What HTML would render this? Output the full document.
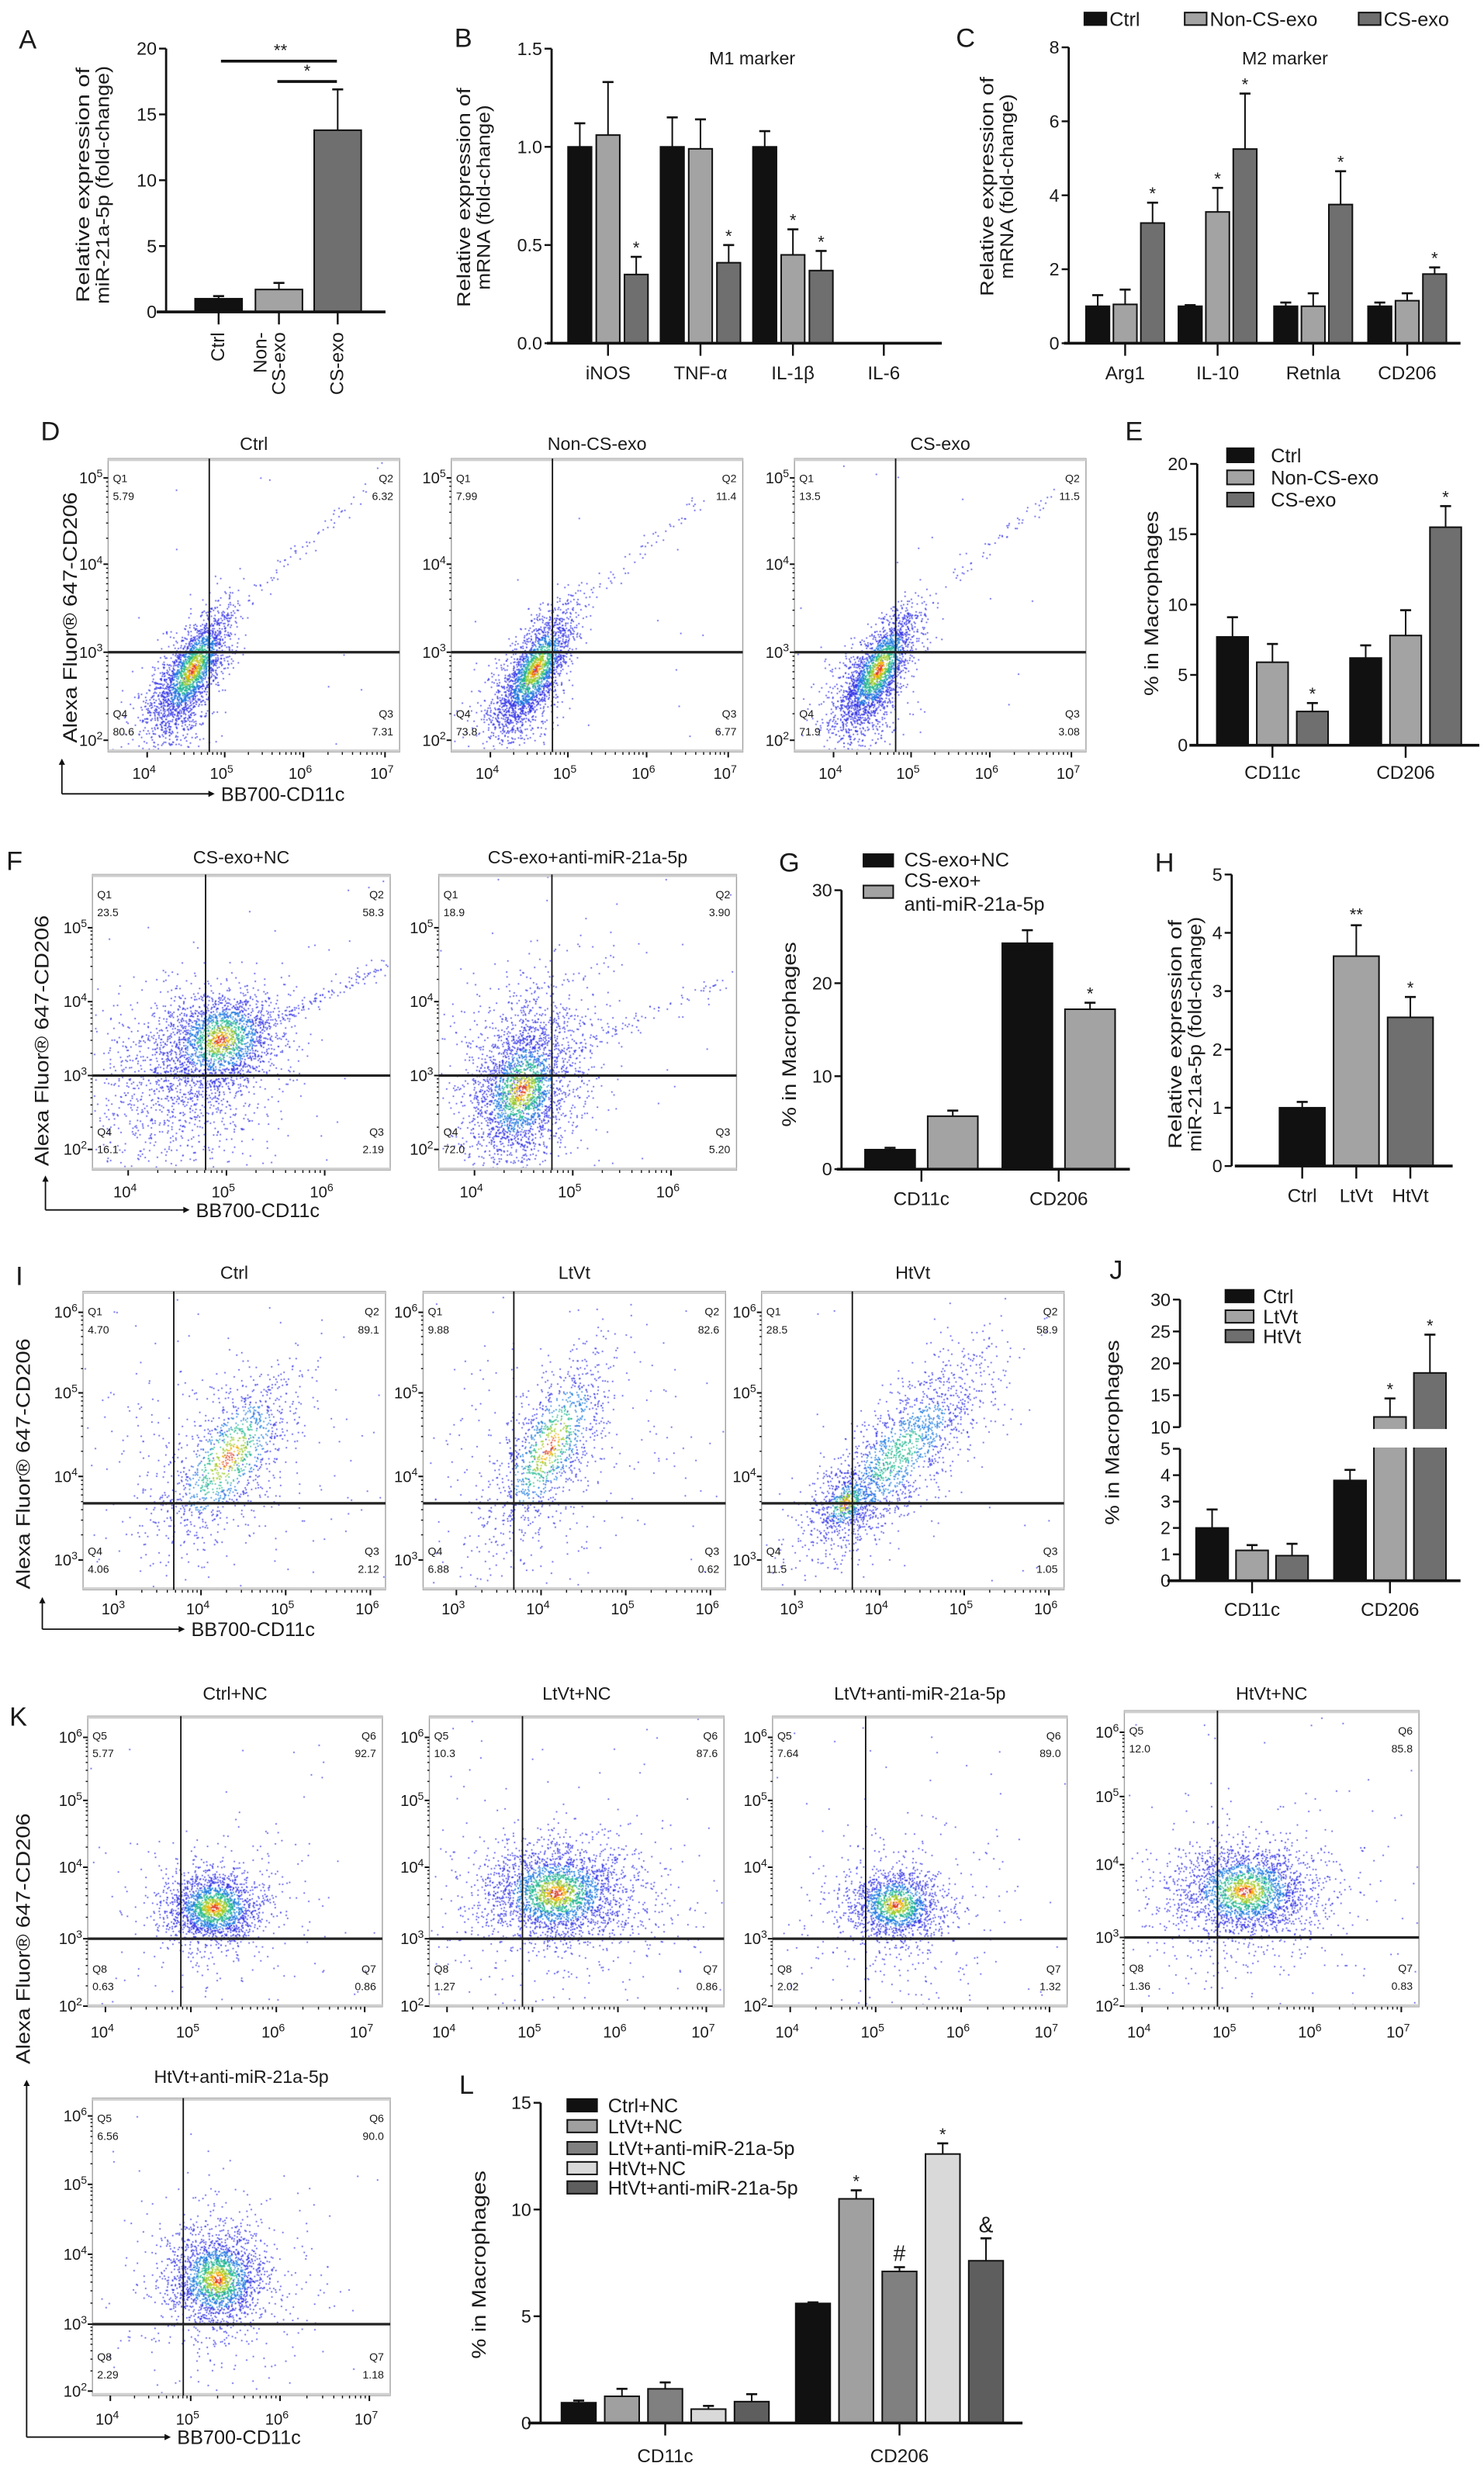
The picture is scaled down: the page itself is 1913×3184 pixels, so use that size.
<!DOCTYPE html>
<html><head><meta charset="utf-8">
<style>
html,body{margin:0;padding:0;background:#fff;}
#wrap{position:relative;width:1913px;height:3184px;overflow:hidden;}
#dots,#fig{position:absolute;left:0;top:0;}
</style></head>
<body>
<div id="wrap">
<canvas id="dots" width="1913" height="3184"></canvas>
<svg id="fig" xmlns="http://www.w3.org/2000/svg" viewBox="0 0 947 1576" width="1913" height="3184" preserveAspectRatio="none"></svg>
</div>
<script>
// ---------- chart data ----------
const aCategories=['Ctrl','Non-CS-exo','CS-exo'];
const aValues=[1.0,1.7,13.8];
const aErrors=[1.2,2.2,16.9];
const aTicks=[0,5,10,15,20];

const bCategories=['iNOS','TNF-α','IL-1β','IL-6'];
const bCtrl=[1.0,1.0,1.0,null];
const bCtrlErr=[1.12,1.15,1.08,null];
const bNon=[1.06,0.99,0.45,null];
const bNonErr=[1.33,1.14,0.58,null];
const bCS=[0.35,0.41,0.37,null];
const bCSErr=[0.44,0.50,0.47,null];
const bTicks=[0,0.5,1.0,1.5];
const bTickLabels=['0.0','0.5','1.0','1.5'];

const cCategories=['Arg1','IL-10','Retnla','CD206'];
const cCtrl=[1.0,1.0,1.0,1.0];
const cCtrlErr=[1.3,1.03,1.1,1.1];
const cNon=[1.05,3.55,1.0,1.15];
const cNonErr=[1.45,4.2,1.35,1.35];
const cCS=[3.25,5.25,3.75,1.87];
const cCSErr=[3.8,6.75,4.65,2.05];
const cTicks=[0,2,4,6,8];

const eCategories=['CD11c','CD206'];
const eCtrl=[7.7,6.2];
const eCtrlErr=[9.1,7.1];
const eNon=[5.9,7.8];
const eNonErr=[7.2,9.6];
const eCS=[2.4,15.5];
const eCSErr=[3.0,17.0];
const eTicks=[0,5,10,15,20];

const gCategories=['CD11c','CD206'];
const gNC=[2.1,24.3];
const gNCErr=[2.3,25.7];
const gAnti=[5.7,17.2];
const gAntiErr=[6.3,17.9];
const gTicks=[0,10,20,30];

const hCategories=['Ctrl','LtVt','HtVt'];
const hValues=[1.0,3.6,2.55];
const hErrors=[1.1,4.13,2.9];
const hTicks=[0,1,2,3,4,5];

const jCategories=['CD11c','CD206'];
const jCtrl=[2.0,3.8];
const jCtrlErr=[2.7,4.2];
const jLt=[1.15,11.6];
const jLtErr=[1.35,14.5];
const jHt=[0.95,18.5];
const jHtErr=[1.4,24.5];
const jTicks=[0,1,2,3,4,5,10,15,20,25,30];

const lCategories=['CD11c','CD206'];
const lCtrlNC=[0.95,5.6];
const lCtrlNCErr=[1.05,5.65];
const lLtNC=[1.25,10.5];
const lLtNCErr=[1.6,10.9];
const lLtAnti=[1.6,7.1];
const lLtAntiErr=[1.9,7.3];
const lHtNC=[0.65,12.6];
const lHtNCErr=[0.8,13.1];
const lHtAnti=[1.0,7.6];
const lHtAntiErr=[1.35,8.65];
const lTicks=[0,5,10,15];

// flow quadrant values [top-left, top-right, bottom-right, bottom-left]
const dQuadVals=[[5.79,6.32,7.31,80.6],[7.99,11.4,6.77,73.8],[13.5,11.5,3.08,71.9]];
const fQuadVals=[['23.5','58.3','2.19','16.1'],['18.9','3.90','5.20','72.0']];
const iQuadVals=[['4.70','89.1','2.12','4.06'],['9.88','82.6','0.62','6.88'],['28.5','58.9','1.05','11.5']];
const kQuadVals=[['5.77','92.7','0.86','0.63'],['10.3','87.6','0.86','1.27'],['7.64','89.0','1.32','2.02'],['12.0','85.8','0.83','1.36'],['6.56','90.0','1.18','2.29']];

// ---------- helpers ----------
const NS='http://www.w3.org/2000/svg';
const svg=document.getElementById('fig');
const FN='"Liberation Sans", Arial, sans-serif';
function mk(tag, attrs, name, parent){
  const el=document.createElementNS(NS,tag);
  for(const k in attrs) el.setAttribute(k, attrs[k]);
  
  
  (parent||svg).appendChild(el);
  return el;
}
function txt(x,y,s,size,anchor,name,extra){
  const a={x:x,y:y,'font-size':size,'text-anchor':anchor||'start','font-family':FN,fill:'#1a1a1a'};
  if(extra) for(const k in extra) a[k]=extra[k];
  const t=mk('text',a,name);
  t.textContent=s;
  return t;
}
function line(x1,y1,x2,y2,w,name,col){
  return mk('line',{x1:x1,y1:y1,x2:x2,y2:y2,stroke:col||'#111','stroke-width':w},name);
}
function vtitle(x,cy,lines,size,name,len){
  lines.forEach((s,i)=>{
    const xx=x+i*size*1.05;
    const extra={transform:'rotate(-90 '+xx+' '+cy+')'};
    if(len) { extra.textLength=len[i]; extra.lengthAdjust='spacingAndGlyphs'; }
    txt(xx,cy,s,size,'middle',name,extra);
  });
}
function letter(x,y,s){ txt(x,y,s,17,'start','panel-label-'+s.toLowerCase()); }

function barChart(o){
  const y0=o.yOf(0);
  const segs=o.segs||[[0,o.ticks[o.ticks.length-1]]];
  segs.forEach(s=>line(o.ax,o.yOf(s[1]),o.ax,o.yOf(s[0]),1.4,'y-axis'));
  o.ticks.forEach((v,i)=>{
    const y=o.yOf(v);
    line(o.ax-4.5,y,o.ax,y,1.2,'y-tick');
    txt(o.ax-6,y+4,o.tickLabels?o.tickLabels[i]:String(v),11.5,'end','y-tick-label');
  });
  o.groups.forEach((cx,gi)=>{
    const n=o.series.length;
    o.series.forEach((s,si)=>{
      const v=s.vals[gi];
      if(v==null) return;
      const bx=cx+(si-(n-1)/2)*o.pitch-o.barW/2;
      const col=Array.isArray(s.color)?s.color[gi]:s.color;
      const yT=o.yOf(v);
      mk('rect',{x:bx,y:yT,width:o.barW,height:y0-yT,fill:col,stroke:'#111','stroke-width':1},'bar-'+o.id+'-'+gi+'-'+si);
      if(s.errs&&s.errs[gi]!=null&&s.errs[gi]>v){
        const ye=o.yOf(s.errs[gi]);
        line(bx+o.barW/2,yT,bx+o.barW/2,ye,1,'error-bar');
        line(bx+o.barW/2-3.5,ye,bx+o.barW/2+3.5,ye,1.3,'error-cap');
      }
    });
  });
  if(o.breakY){
    mk('rect',{x:o.ax+2,y:o.breakY[0],width:o.x1-o.ax,height:o.breakY[1]-o.breakY[0],fill:'#fff'},'axis-break-gap');
  }
  line(o.x0,y0,o.x1,y0,1.8,'x-axis');
  o.groups.forEach((cx,gi)=>{
    line(cx,y0,cx,y0+8,1.2,'x-tick');
    if(o.labels) txt(cx,o.labelY,o.labels[gi],12,'middle','x-tick-label');
  });
  (o.stars||[]).forEach(st=>{
    const n=o.series.length;
    const cx=o.groups[st[0]]+(st[1]-(n-1)/2)*o.pitch;
    const s=o.series[st[1]];
    const top=o.yOf(s.errs[st[0]]);
    const big=st[2]!=='*'&&st[2]!=='**';
    txt(cx,top-(big?4:2),st[2],big?14:11,'middle','significance-mark');
  });
}
function legend(items,x,ys,w,h,tx,size){
  items.forEach((it,i)=>{
    mk('rect',{x:x,y:ys[i]-h/2,width:w,height:h,fill:it[1],stroke:'#111','stroke-width':1},'legend-swatch');
    txt(tx,ys[i]+size*0.36,it[0],size,'start','legend-entry');
  });
}
const BLK='#111', LG='#a3a3a3', DG='#6f6f6f';

// ---------- Panel A ----------
letter(12,31,'A');
const yA=v=>199-v*8.4;
barChart({id:'a',ax:106,x0:100,x1:246,yOf:yA,ticks:aTicks,groups:[139.5,178,215.5],barW:30,pitch:0,
  series:[{vals:aValues,errs:aErrors,color:[BLK,LG,DG]}]});
line(141,39,215,39,1.8,'significance-line-ctrl-cs');
line(177,52,215,52,1.8,'significance-line-non-cs');
txt(179,36,'**',11,'middle','significance-mark');
txt(196,49,'*',11,'middle','significance-mark');
txt(143,212,'Ctrl',12,'end','x-tick-label',{transform:'rotate(-90 143 212)'});
txt(170,212,'Non-',12,'end','x-tick-label',{transform:'rotate(-90 170 212)'});
txt(182,212,'CS-exo',12,'end','x-tick-label',{transform:'rotate(-90 182 212)'});
txt(219,212,'CS-exo',12,'end','x-tick-label',{transform:'rotate(-90 219 212)'});
vtitle(57,118,['Relative expression of','miR-21a-5p (fold-change)'],12,'y-axis-title',[150,152]);

// ---------- Panel B ----------
letter(290,30,'B');
const yB=v=>219-v*125.3;
barChart({id:'b',ax:352,x0:349,x1:601,yOf:yB,ticks:bTicks,tickLabels:bTickLabels,groups:[388,447,506,564],labels:bCategories,labelY:242,barW:15,pitch:18,
  series:[{vals:bCtrl,errs:bCtrlErr,color:BLK},{vals:bNon,errs:bNonErr,color:LG},{vals:bCS,errs:bCSErr,color:DG}],
  stars:[[0,2,'*'],[1,2,'*'],[2,1,'*'],[2,2,'*']]});
txt(480,41,'M1 marker',11.5,'middle','chart-title');
vtitle(300,126,['Relative expression of','mRNA (fold-change)'],12,'y-axis-title',[140,118]);

// ---------- Panel C ----------
letter(610,30,'C');
const yC=v=>219-v*23.6;
barChart({id:'c',ax:682,x0:679,x1:932,yOf:yC,ticks:cTicks,groups:[718,777,838,898],labels:cCategories,labelY:242,barW:15,pitch:17.5,
  series:[{vals:cCtrl,errs:cCtrlErr,color:BLK},{vals:cNon,errs:cNonErr,color:LG},{vals:cCS,errs:cCSErr,color:DG}],
  stars:[[0,2,'*'],[1,1,'*'],[1,2,'*'],[2,2,'*'],[3,2,'*']]});
txt(820,41,'M2 marker',11.5,'middle','chart-title');
vtitle(634,119,['Relative expression of','mRNA (fold-change)'],12,'y-axis-title',[140,118]);
[['Ctrl',BLK,692],['Non-CS-exo',LG,756],['CS-exo',DG,867]].forEach(it=>{
  mk('rect',{x:it[2],y:8,width:14,height:8,fill:it[1],stroke:'#111','stroke-width':1},'legend-swatch');
  txt(it[2]+16,16.5,it[0],12.5,'start','legend-entry');
});

// ---------- Panel E ----------
letter(718,281,'E');
const yE=v=>475.5-v*8.975;
barChart({id:'e',ax:764,x0:759,x1:944,yOf:yE,ticks:eTicks,groups:[812,897],labels:eCategories,labelY:497,barW:20,pitch:25.5,
  series:[{vals:eCtrl,errs:eCtrlErr,color:BLK},{vals:eNon,errs:eNonErr,color:LG},{vals:eCS,errs:eCSErr,color:DG}],
  stars:[[0,2,'*'],[1,2,'*']]});
legend([['Ctrl',BLK],['Non-CS-exo',LG],['CS-exo',DG]],783,[290.5,304.6,318.8],17,9,811,12.5);
vtitle(739,385,['% in Macrophages'],12.5,'y-axis-title',[118]);

// ---------- Panel G ----------
letter(497,556,'G');
const yG=v=>746-v*5.933;
barChart({id:'g',ax:537,x0:534,x1:721,yOf:yG,ticks:gTicks,groups:[588,675.6],labels:gCategories,labelY:769,barW:32,pitch:40,
  series:[{vals:gNC,errs:gNCErr,color:BLK},{vals:gAnti,errs:gAntiErr,color:LG}],
  stars:[[1,1,'*']]});
mk('rect',{x:551,y:545,width:19,height:8,fill:BLK,stroke:'#111','stroke-width':1},'legend-swatch');
txt(577,553,'CS-exo+NC',12.5,'start','legend-entry');
mk('rect',{x:551,y:565,width:19,height:8,fill:LG,stroke:'#111','stroke-width':1},'legend-swatch');
txt(577,566,'CS-exo+',12.5,'start','legend-entry');
txt(577,581,'anti-miR-21a-5p',12.5,'start','legend-entry');
vtitle(508,660,['% in Macrophages'],12.5,'y-axis-title',[118]);

// ---------- Panel H ----------
letter(737,556,'H');
const yH=v=>744-v*37.2;
barChart({id:'h',ax:786,x0:788,x1:927,yOf:yH,ticks:hTicks,groups:[831,865.5,900],labels:hCategories,labelY:767,barW:29,pitch:0,
  series:[{vals:hValues,errs:hErrors,color:[BLK,LG,DG]}]});
txt(865.5,yH(hErrors[1])-3,'**',11,'middle','significance-mark');
txt(900,yH(hErrors[2])-2,'*',11,'middle','significance-mark');
vtitle(754,660,['Relative expression of','miR-21a-5p (fold-change)'],12,'y-axis-title',[146,150]);

// ---------- Panel J ----------
letter(708,816,'J');
const yJ=v=>v<=5?1008.6-v*16.84:910.6-(v-10)*4.07;
barChart({id:'j',ax:753,x0:745,x1:932,yOf:yJ,ticks:jTicks,segs:[[0,5],[10,30]],breakY:[911.8,923.6],groups:[799,887],labels:jCategories,labelY:1031,barW:20.5,pitch:25.5,
  series:[{vals:jCtrl,errs:jCtrlErr,color:BLK},{vals:jLt,errs:jLtErr,color:LG},{vals:jHt,errs:jHtErr,color:DG}],
  stars:[[1,1,'*'],[1,2,'*']]});
legend([['Ctrl',BLK],['LtVt',LG],['HtVt',DG]],782,[827,840,852.5],18,8,806,12.5);
vtitle(714,914,['% in Macrophages'],12.5,'y-axis-title',[118]);

// ---------- Panel L ----------
letter(293,1336,'L');
const yL=v=>1546-v*13.62;
barChart({id:'l',ax:345,x0:337,x1:652.5,yOf:yL,ticks:lTicks,groups:[424.5,574],labels:lCategories,labelY:1571,barW:22,pitch:27.6,
  series:[{vals:lCtrlNC,errs:lCtrlNCErr,color:BLK},{vals:lLtNC,errs:lLtNCErr,color:'#a0a0a0'},{vals:lLtAnti,errs:lLtAntiErr,color:'#808080'},{vals:lHtNC,errs:lHtNCErr,color:'#d9d9d9'},{vals:lHtAnti,errs:lHtAntiErr,color:'#5e5e5e'}],
  stars:[[1,1,'*'],[1,2,'#'],[1,3,'*'],[1,4,'&']]});
legend([['Ctrl+NC',BLK],['LtVt+NC','#a0a0a0'],['LtVt+anti-miR-21a-5p','#808080'],['HtVt+NC','#d9d9d9'],['HtVt+anti-miR-21a-5p','#5e5e5e']],362,[1343.3,1356.6,1370.6,1383.4,1395.7],19,8,388,12.5);
vtitle(310,1445,['% in Macrophages'],12.5,'y-axis-title',[120]);

// ---------- flow panels ----------
let seed=12345;
function rnd(){ seed|=0; seed=seed+0x6D2B79F5|0; let t=Math.imul(seed^seed>>>15,1|seed); t=t+Math.imul(t^t>>>7,61|t)^t; return ((t^t>>>14)>>>0)/4294967296; }
function gauss(){ let u=0,v=0; while(u===0)u=rnd(); v=rnd(); return Math.sqrt(-2*Math.log(u))*Math.cos(2*Math.PI*v); }
const cv=document.getElementById('dots');
const ctx=cv.getContext('2d');
ctx.setTransform(1913/947,0,0,3184/1576,0,0);
function colFor(d){
  if(d>0.985) return '#e03a20';
  if(d>0.95) return '#f0b000';
  if(d>0.86) return '#9ccc2a';
  if(d>0.7) return '#20b890';
  if(d>0.48) return '#1a7ae0';
  return '#3030e6';
}
function drawDots(p,blobs){
  const pts=[];
  blobs.forEach(b=>{
    const a=(b.ang||0)*Math.PI/180, ca=Math.cos(a), sa=Math.sin(a);
    for(let i=0;i<b.n;i++){
      let fx,fy,d;
      if(b.type==='tail'){
        const t=rnd();
        fx=b.x1+(b.x2-b.x1)*t+gauss()*0.015; fy=b.y1+(b.y2-b.y1)*t+gauss()*0.015; d=0.1;
      } else if(b.type==='uni'){
        fx=rnd(); fy=rnd(); d=0.05;
      } else {
        const g1=gauss(), g2=gauss();
        const u=g1*b.sa, v=g2*b.sb;
        fx=b.cx+u*ca-v*sa; fy=b.cy+u*sa+v*ca;
        d=Math.exp(-(g1*g1+g2*g2)/2)*(b.w==null?1:b.w);
      }
      if(fx<0.005||fx>0.995||fy<0.005||fy>0.995) continue;
      pts.push([p.x+fx*p.w,p.y+fy*p.h,d]);
    }
  });
  pts.sort((a,b)=>a[2]-b[2]);
  pts.forEach(q=>{ ctx.fillStyle=colFor(q[2]); ctx.fillRect(q[0]-0.4,q[1]-0.4,0.8,0.8); });
}
function sup(x,y,exp,anchor,name){
  const t=mk('text',{x:x,y:y,'font-size':10,'text-anchor':anchor,'font-family':FN,fill:'#1a1a1a'},name);
  const a=document.createElementNS(NS,'tspan'); a.textContent='10'; t.appendChild(a);
  const b=document.createElementNS(NS,'tspan'); b.setAttribute('dy','-4'); b.setAttribute('font-size','7'); b.textContent=String(exp); t.appendChild(b);
}
function flowPanel(p){
  drawDots(p,p.blobs);
  mk('rect',{x:p.x,y:p.y,width:p.w,height:p.h,fill:'none',stroke:'#a0a0a0','stroke-width':0.7},'flow-plot-frame');
  line(p.x,p.y+0.8,p.x+p.w,p.y+0.8,1.6,'flow-frame-top','#cfcfcf');
  line(p.x,p.y+p.h-0.8,p.x+p.w,p.y+p.h-0.8,1.6,'flow-frame-bottom','#cfcfcf');
  txt(p.x+p.w/2,p.ty,p.title,11.5,'middle','flow-plot-title');
  const gx=p.x+p.gx*p.w, gy=p.y+p.gy*p.h;
  line(gx,p.y,gx,p.y+p.h,0.9,'quadrant-gate-vertical');
  line(p.x,gy,p.x+p.w,gy,1.6,'quadrant-gate-horizontal','#222');
  p.yFr.forEach((f,i)=>{
    const y=p.y+f*p.h;
    line(p.x-3,y,p.x,y,1,'flow-y-tick');
    sup(p.x-3.5,y+3.5,p.yExp[i],'end','flow-y-tick-label');
    if(i<p.yFr.length-1){
      const step=(p.yFr[i+1]-f)*p.h;
      for(let k=2;k<10;k++){ const yy=y+step*(1-Math.log10(k)); line(p.x-1.3,yy,p.x,yy,0.7,'flow-y-minor-tick'); }
    }
  });
  const yb=p.y+p.h;
  p.xFr.forEach((f,i)=>{
    const x=p.x+f*p.w;
    line(x,yb,x,yb+3.5,1,'flow-x-tick');
    sup(x-2,p.xly,p.xExp[i],'middle','flow-x-tick-label');
    if(i<p.xFr.length-1){
      const step=(p.xFr[i+1]-f)*p.w;
      for(let k=2;k<10;k++){ const xx=x+step*Math.log10(k); line(xx,yb,xx,yb+1.8,0.7,'flow-x-minor-tick'); }
    }
  });
  const qn=p.qn, qv=p.qv;
  txt(p.x+3,p.y+0.067*p.h+2.5,qn[0],7,'start','quadrant-name');
  txt(p.x+3,p.y+0.128*p.h+2.5,String(qv[0]),7,'start','quadrant-percent');
  txt(p.x+p.w-4,p.y+0.067*p.h+2.5,qn[1],7,'end','quadrant-name');
  txt(p.x+p.w-4,p.y+0.128*p.h+2.5,String(qv[1]),7,'end','quadrant-percent');
  txt(p.x+p.w-4,p.y+0.87*p.h+2.5,qn[2],7,'end','quadrant-name');
  txt(p.x+p.w-4,p.y+0.93*p.h+2.5,String(qv[2]),7,'end','quadrant-percent');
  txt(p.x+3,p.y+0.87*p.h+2.5,qn[3],7,'start','quadrant-name');
  txt(p.x+3,p.y+0.93*p.h+2.5,String(qv[3]),7,'start','quadrant-percent');
}
function axisArrows(x,yTop,yBot,xEnd,label,name){
  line(x,yBot,x,yTop+3,0.9,name+'-arrow-y');
  mk('path',{d:'M'+(x-2)+' '+(yTop+4)+' L'+x+' '+yTop+' L'+(x+2)+' '+(yTop+4)+' Z',fill:'#111'},name+'-arrowhead-y');
  line(x,yBot,xEnd-3,yBot,0.9,name+'-arrow-x');
  mk('path',{d:'M'+(xEnd-4)+' '+(yBot-2)+' L'+xEnd+' '+yBot+' L'+(xEnd-4)+' '+(yBot+2)+' Z',fill:'#111'},name+'-arrowhead-x');
  txt(xEnd+4,yBot+4.5,label,12.5,'start','x-axis-title');
}
const Q14=['Q1','Q2','Q3','Q4'], Q58=['Q5','Q6','Q7','Q8'];

// D
letter(26,281,'D');
['Ctrl','Non-CS-exo','CS-exo'].forEach((t,i)=>{
  flowPanel({x:[69,288,507][i],y:292.6,w:186,h:187.2,title:t,ty:287,gx:0.347,gy:0.66,
    yExp:[5,4,3,2],yFr:[0.066,0.36,0.66,0.96],xExp:[4,5,6,7],xFr:[0.134,0.40,0.67,0.95],xly:497,qn:Q14,qv:dQuadVals[i],
    blobs:[{cx:0.29,cy:0.72,sa:0.11,sb:0.042,ang:-62,n:2000},{type:'tail',x1:0.36,y1:0.58,x2:0.88,y2:0.12,n:70},{cx:0.22,cy:0.85,sa:0.09,sb:0.07,ang:-60,n:450,w:0.3},{type:'uni',n:15}]});
});
axisArrows(39.5,484,506.5,137,'BB700-CD11c','d-axis');
vtitle(49,394,['Alexa Fluor® 647-CD206'],12.5,'y-axis-title',[160]);

// F
letter(4,555,'F');
flowPanel({x:59,y:558,w:190,h:188.6,title:'CS-exo+NC',ty:551,gx:0.38,gy:0.68,
  yExp:[5,4,3,2],yFr:[0.18,0.43,0.68,0.93],xExp:[4,5,6],xFr:[0.12,0.45,0.78],xly:764,qn:Q14,qv:fQuadVals[0],
  blobs:[{cx:0.30,cy:0.70,sa:0.17,sb:0.15,ang:-30,n:1200,w:0.35},{cx:0.43,cy:0.56,sa:0.10,sb:0.08,ang:-25,n:1800},{type:'tail',x1:0.55,y1:0.52,x2:1.0,y2:0.30,n:130},{type:'uni',n:30}]});
flowPanel({x:280,y:558,w:190,h:188.6,title:'CS-exo+anti-miR-21a-5p',ty:551,gx:0.38,gy:0.68,
  yExp:[5,4,3,2],yFr:[0.18,0.43,0.68,0.93],xExp:[4,5,6],xFr:[0.12,0.45,0.78],xly:764,qn:Q14,qv:fQuadVals[1],
  blobs:[{cx:0.30,cy:0.66,sa:0.2,sb:0.13,ang:-75,n:900,w:0.35},{cx:0.28,cy:0.73,sa:0.12,sb:0.075,ang:-72,n:2000},{type:'tail',x1:0.42,y1:0.6,x2:1.0,y2:0.35,n:80},{type:'uni',n:30}]});
axisArrows(29,750,772,121,'BB700-CD11c','f-axis');
vtitle(31,664,['Alexa Fluor® 647-CD206'],12.5,'y-axis-title',[160]);

// I
letter(10,820,'I');
const iBlobs=[
  [{cx:0.48,cy:0.56,sa:0.17,sb:0.075,ang:-55,n:1100},{cx:0.4,cy:0.6,sa:0.25,sb:0.2,n:250,w:0.2},{type:'uni',n:50}],
  [{cx:0.42,cy:0.52,sa:0.18,sb:0.065,ang:-62,n:1100},{cx:0.38,cy:0.6,sa:0.25,sb:0.2,n:250,w:0.2},{type:'uni',n:50}],
  [{cx:0.45,cy:0.55,sa:0.22,sb:0.075,ang:-48,n:1700,w:0.8},{cx:0.28,cy:0.71,sa:0.06,sb:0.04,ang:-50,n:500},{type:'uni',n:35}]];
['Ctrl','LtVt','HtVt'].forEach((t,i)=>{
  flowPanel({x:[53,270,486][i],y:824,w:193,h:190.4,title:t,ty:816,gx:0.30,gy:0.71,
    yExp:[6,5,4,3],yFr:[0.07,0.34,0.62,0.90],xExp:[3,4,5,6],xFr:[0.11,0.39,0.67,0.95],xly:1030,qn:Q14,qv:iQuadVals[i],blobs:iBlobs[i]});
});
axisArrows(27,1019,1039.5,118,'BB700-CD11c','i-axis');
vtitle(19,934,['Alexa Fluor® 647-CD206'],12.5,'y-axis-title',[160]);

// K
letter(6,1101,'K');
const kTitles=['Ctrl+NC','LtVt+NC','LtVt+anti-miR-21a-5p','HtVt+NC'];
const kX=[56,274,493,717.5], kY=[1095,1095,1095,1091.5], kH=[185.4,185.4,185.4,188.9];
const kBlobs=[
  [{cx:0.43,cy:0.66,sa:0.08,sb:0.06,n:1800},{cx:0.43,cy:0.68,sa:0.17,sb:0.14,n:300,w:0.25},{type:'uni',n:25}],
  [{cx:0.43,cy:0.61,sa:0.12,sb:0.08,n:2300},{cx:0.43,cy:0.65,sa:0.24,sb:0.16,n:600,w:0.25},{type:'uni',n:40}],
  [{cx:0.42,cy:0.65,sa:0.08,sb:0.06,n:1400},{cx:0.42,cy:0.68,sa:0.18,sb:0.15,n:400,w:0.25},{type:'uni',n:35}],
  [{cx:0.41,cy:0.61,sa:0.115,sb:0.075,n:2100},{cx:0.41,cy:0.65,sa:0.22,sb:0.15,n:500,w:0.25},{type:'uni',n:35}]];
kTitles.forEach((t,i)=>{
  flowPanel({x:kX[i],y:kY[i],w:188,h:kH[i],title:t,ty:1084.5,gx:0.316,gy:0.766,
    yExp:[6,5,4,3,2],yFr:[0.073,0.29,0.52,0.766,0.998],xExp:[4,5,6,7],xFr:[0.06,0.35,0.64,0.94],xly:1300,qn:Q58,qv:kQuadVals[i],blobs:kBlobs[i]});
});
flowPanel({x:59,y:1338.7,w:190,h:189.8,title:'HtVt+anti-miR-21a-5p',ty:1329,gx:0.305,gy:0.76,
  yExp:[6,5,4,3,2],yFr:[0.06,0.29,0.525,0.76,0.985],xExp:[4,5,6,7],xFr:[0.06,0.33,0.63,0.93],xly:1547,qn:Q58,qv:kQuadVals[4],
  blobs:[{cx:0.42,cy:0.61,sa:0.08,sb:0.08,n:1900},{cx:0.42,cy:0.64,sa:0.17,sb:0.16,n:400,w:0.25},{type:'uni',n:35}]});
axisArrows(17,1327,1555,109,'BB700-CD11c','k-axis');
vtitle(19,1237,['Alexa Fluor® 647-CD206'],12.5,'y-axis-title',[160]);
</script>
</body></html>
